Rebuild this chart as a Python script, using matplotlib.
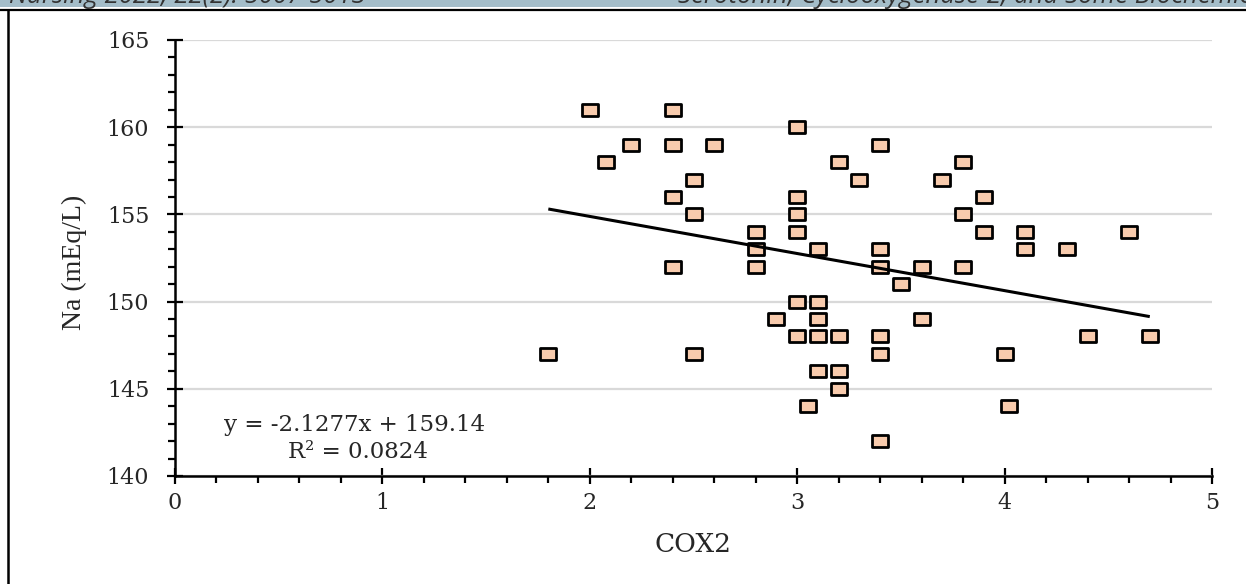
import matplotlib
matplotlib.use("Agg")
import matplotlib.pyplot as plt
from matplotlib.path import Path
from matplotlib.ticker import MultipleLocator, FixedLocator
from matplotlib.patches import Rectangle
from matplotlib.lines import Line2D
import numpy as np

# ---------------- data ----------------
cox2 = [2.0, 2.4, 3.0, 2.2, 2.4, 2.6, 3.4, 2.08, 3.2, 3.8,
        2.5, 3.3, 3.7, 2.4, 3.0, 3.9, 2.5, 3.0, 3.8, 2.8,
        3.0, 3.9, 4.1, 4.6, 2.8, 3.1, 3.4, 4.1, 4.3, 2.4,
        2.8, 3.4, 3.6, 3.8, 3.5, 3.0, 3.1, 2.9, 3.1, 3.6,
        3.0, 3.1, 3.2, 3.4, 4.4, 4.7, 1.8, 2.5, 3.4, 4.0,
        3.1, 3.2, 3.2, 3.05, 4.02, 3.4]
na = [161, 161, 160, 159, 159, 159, 159, 158, 158, 158,
      157, 157, 157, 156, 156, 156, 155, 155, 155, 154,
      154, 154, 154, 154, 153, 153, 153, 153, 153, 152,
      152, 152, 152, 152, 151, 150, 150, 149, 149, 149,
      148, 148, 148, 148, 148, 148, 147, 147, 147, 147,
      146, 146, 145, 144, 144, 142]
trend_slope = -2.1277
trend_intercept = 159.14
x_ticks = [0, 1, 2, 3, 4, 5]
y_ticks = [140, 145, 150, 155, 160, 165]
x_label = "COX2"
y_label = "Na (mEq/L)"
eq_line1 = "y = -2.1277x + 159.14"
eq_line2 = "R² = 0.0824"
header_left = "r Nursing 2022; 22(2): 5007-5013"
header_right = "Serotonin, Cyclooxygenase-2, and Some Biochemical"

# ---------------- figure ----------------
W, H = 1246, 584
fig = plt.figure(figsize=(W / 100, H / 100), dpi=100)
fig.patch.set_facecolor("white")

# header band, rules and frame
fig.patches.append(Rectangle((0, 1 - 7 / H), 1, 7 / H, transform=fig.transFigure,
                             facecolor="#a4bdc9", edgecolor="none", zorder=0))
fig.lines.append(Line2D([0, 1], [1 - 10 / H, 1 - 10 / H], transform=fig.transFigure,
                        color="black", lw=1.6))
fig.lines.append(Line2D([8 / W, 8 / W], [0, 1 - 10 / H], transform=fig.transFigure,
                        color="black", lw=1.8))
fig.text(-8 / W, 1 - 3 / H, header_left, fontsize=18.5, style="italic",
         family="Open Sans", color="#333333", va="baseline", ha="left")
fig.text(678 / W, 1 - 3 / H, header_right, fontsize=18.5, style="italic",
         family="Open Sans", color="#333333", va="baseline", ha="left")

ax = fig.add_axes([175 / W, 1 - 476 / H, (1212 - 175) / W, (476 - 40) / H])
ax.set_xlim(0, 5)
ax.set_ylim(140, 165)

# gridlines
ax.yaxis.grid(True, color="#d9d9d9", lw=1.6, zorder=0)
ax.set_axisbelow(True)

# markers (slightly wide rectangles, as in the reference)
rect = Path([(-0.5, -0.37), (0.5, -0.37), (0.5, 0.37), (-0.5, 0.37), (-0.5, -0.37)],
            [Path.MOVETO, Path.LINETO, Path.LINETO, Path.LINETO, Path.CLOSEPOLY])
ax.plot(cox2, na, linestyle="none", marker=rect, markersize=12,
        markerfacecolor="#f8cbad", markeredgecolor="black", markeredgewidth=2.0,
        zorder=3)

# trend line
xs = np.array([min(cox2), max(cox2)])
ax.plot(xs, trend_slope * xs + trend_intercept, color="black", lw=2.2, zorder=4,
        solid_capstyle="butt")

# axes styling
for s in ["top", "right"]:
    ax.spines[s].set_visible(False)
for s in ["left", "bottom"]:
    ax.spines[s].set_linewidth(1.8)
    ax.spines[s].set_color("black")

ax.xaxis.set_major_locator(FixedLocator(x_ticks))
ax.yaxis.set_major_locator(FixedLocator(y_ticks))
ax.xaxis.set_minor_locator(MultipleLocator(0.2))
ax.yaxis.set_minor_locator(MultipleLocator(1))
ax.tick_params(which="major", direction="inout", length=11, width=1.6, color="black")
ax.tick_params(which="minor", direction="out", length=5, width=1.6, color="black")
ax.tick_params(axis="y", which="major", pad=13)
ax.tick_params(axis="x", which="major", pad=6)

tick_font = dict(family="DejaVu Serif", size=16)
ax.set_xticklabels([str(v) for v in x_ticks], fontdict=tick_font, color="#262626")
ax.set_yticklabels([str(v) for v in y_ticks], fontdict=tick_font, color="#262626")

ax.set_xlabel(x_label, family="DejaVu Serif", fontsize=19, color="#262626", va="center")
ax.xaxis.set_label_coords(0.5, -0.158)
ax.set_ylabel(y_label, family="Liberation Serif", fontsize=20, color="#262626", va="center")
ax.yaxis.set_label_coords(-0.0974, 0.49)

ax.text(0.1736, 0.117, eq_line1, transform=ax.transAxes, ha="center", va="center",
        family="DejaVu Serif", fontsize=16.5, color="#262626")
ax.text(0.176, 0.055, eq_line2, transform=ax.transAxes, ha="center", va="center",
        family="DejaVu Serif", fontsize=16.5, color="#262626")

fig.savefig("out.png", dpi=100, facecolor="white")
